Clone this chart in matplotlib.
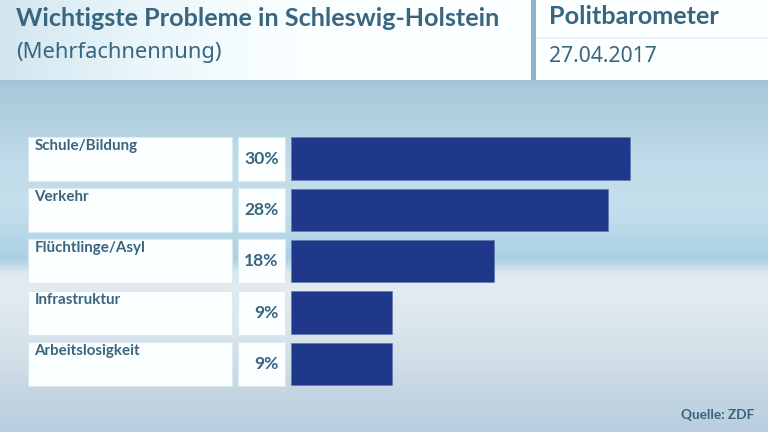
import numpy as np
import matplotlib
matplotlib.use("Agg")
import matplotlib.pyplot as plt
from matplotlib.patches import Rectangle
from matplotlib.colors import LinearSegmentedColormap

categories = ["Schule/Bildung", "Verkehr", "Flüchtlinge/Asyl", "Infrastruktur", "Arbeitslosigkeit"]
values = [30, 28, 18, 9, 9]
title = "Wichtigste Probleme in Schleswig-Holstein"
subtitle = "(Mehrfachnennung)"
brand = "Politbarometer"
date = "27.04.2017"
source = "Quelle: ZDF"

FONT = "Noto Sans"
BOLD = "Lato"
TXT = "#38657f"
BAR = "#20388a"
W, H = 768, 432

fig = plt.figure(figsize=(W / 100, H / 100), dpi=100)
bg = fig.add_axes([0, 0, 1, 1])
bg.set_xlim(0, W); bg.set_ylim(H, 0); bg.axis("off")

# background gradient (stops are fractions of the area below the header)
stops = [(0.0, "#a5c7d8"), (0.12, "#b4d2e1"), (0.25, "#c2dcea"), (0.36, "#c4dfec"), (0.44, "#b8d8e8"),
         (0.505, "#a9d0e4"), (0.52, "#b6d7e6"), (0.545, "#dbe7ed"), (0.58, "#e3ecf1"), (0.72, "#d9e5ec"),
         (0.88, "#c6d7e3"), (1.0, "#b8cede")]
cm = LinearSegmentedColormap.from_list("bg", stops)
bg.imshow(np.linspace(0, 1, 400)[:, None], cmap=cm, extent=[0, W, H, 80], aspect="auto", zorder=0)
bg.set_xlim(0, W); bg.set_ylim(H, 0)

# header panels
hc = LinearSegmentedColormap.from_list("h", ["#d3e6f0", "#e8f5fa", "#f8feff", "#fcffff", "#fcffff"])
bg.imshow(np.linspace(0, 1, 300)[None, :], cmap=hc, extent=[0, 530, 80, 0], aspect="auto", zorder=1)
bg.set_xlim(0, W); bg.set_ylim(H, 0)
bg.add_patch(Rectangle((530.5, 0), 5, 80, fc="#8ab6cb", ec="none", zorder=2))
bg.add_patch(Rectangle((535.5, 0), W - 535.5, 80, fc="#fbffff", ec="none", zorder=2))
bg.add_patch(Rectangle((535.5, 37), W - 535.5, 2, fc="#e6f2f7", ec="none", zorder=3))
bg.add_patch(Rectangle((0, 80), W, 1.5, fc="#9fc3d4", ec="none", zorder=3))

bg.text(16, 18, title, fontsize=18.1, fontweight="bold", color=TXT, family=BOLD, va="center", zorder=4)
bg.text(16, 52.5, subtitle, fontsize=15.8, color=TXT, family=FONT, va="center", zorder=4)
bg.text(549, 16, brand, fontsize=18.2, fontweight="bold", color=TXT, family=BOLD, va="center", zorder=4)
bg.text(549, 56.5, date, fontsize=15.2, color=TXT, family=FONT, va="center", zorder=4)
bg.text(754, 415, source, fontsize=9.8, fontweight="bold", color=TXT, family=BOLD, ha="right", va="center", zorder=4)

# bars
px_per_unit = 11.33
top, bottom = 133, 389.5
ax = fig.add_axes([290.5 / W, 1 - bottom / H, 1 - 290.5 / W, (bottom - top) / H], zorder=5)
ax.patch.set_alpha(0)
ax.set_xlim(0, (W - 290.5) / px_per_unit)
ax.set_ylim(len(values) - 0.5, -0.5)
ax.axis("off")
y = np.arange(len(values))
ax.barh(y, values, height=0.825, color=BAR, edgecolor="#5f77b4", linewidth=0.5, zorder=3)

unit_h = (bottom - top) / len(values)
for i, (c, v) in enumerate(zip(categories, values)):
    yc = top + (i + 0.5) * unit_h
    bg.add_patch(Rectangle((28, yc - 22), 204, 44, fc="#fcffff", ec="#dbe9f0", lw=0.8, zorder=2))
    bg.add_patch(Rectangle((238, yc - 22), 47, 44, fc="#fcffff", ec="#dbe9f0", lw=0.8, zorder=2))
    bg.text(34.5, yc - 12.8, c, fontsize=10.9, fontweight="bold", color=TXT, family=BOLD, va="center", zorder=4)
    bg.text(278.5, yc, f"{v}%", fontsize=12.6, fontweight="bold", color=TXT, family=BOLD, ha="right", va="center", zorder=4)

fig.savefig("out.png", dpi=100)
